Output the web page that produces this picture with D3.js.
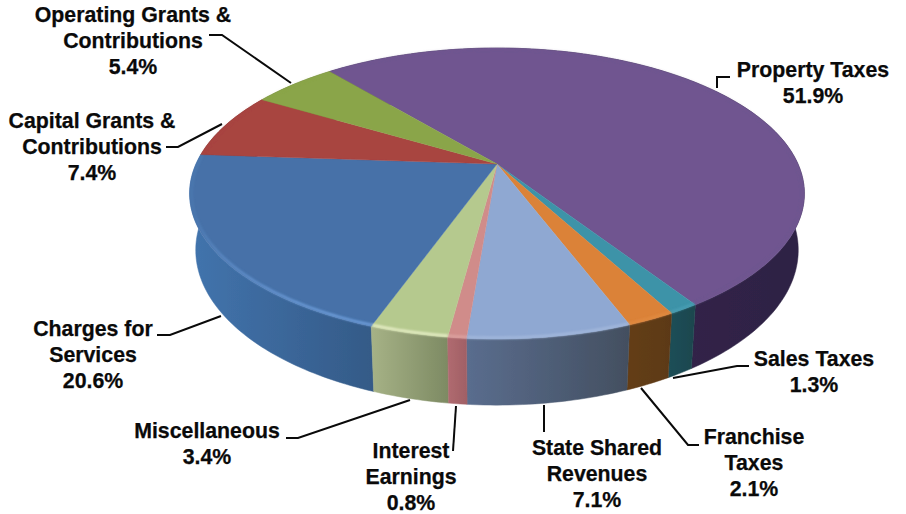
<!DOCTYPE html>
<html lang="en">
<head>
  <meta charset="UTF-8" />
  <title>Revenues by Source</title>
  <script src="https://d3js.org/d3.v7.min.js"></script>
  <style>
    html, body { margin: 0; padding: 0; background: #fff; }
    svg { display: block; }
    text { font-family: "Liberation Sans", Arial, sans-serif; font-weight: bold; font-size: 21.3px; fill: #0a0a0a; stroke: #0a0a0a; stroke-width: 0.25px; text-anchor: middle; }
    .leader { fill: none; stroke: #0a0a0a; stroke-width: 2; }
  </style>
</head>
<body>
  <div id="chart"></div>
  <script>
    // Data, clockwise from the big purple slice
    const categories = [
      ["Property Taxes"],
      ["Sales Taxes"],
      ["Franchise", "Taxes"],
      ["State Shared", "Revenues"],
      ["Interest", "Earnings"],
      ["Miscellaneous"],
      ["Charges for", "Services"],
      ["Capital Grants &", "Contributions"],
      ["Operating Grants &", "Contributions"]
    ];
    const values = [51.9, 1.3, 2.1, 7.1, 0.8, 3.4, 20.6, 7.4, 5.4];

    // Colours per slice
    const topColors  = ["#6f5590", "#3c93a8", "#db8238", "#8fa8d2", "#d08c8a", "#b5c98e", "#4671a8", "#a84440", "#8aa548"];
    const sideLeft   = ["#3a2b54", "#1f4f58", "#643e19", "#5a6d8e", "#b06a70", "#a6b286", "#4274ad", "#7a2f2c", "#63782f"];
    const sideRight  = ["#2e2244", "#1b464e", "#5c3916", "#434f60", "#a06065", "#7d8a63", "#345a87", "#7a2f2c", "#63782f"];
    const bevelColor = ["#6f5590", "#4a9fb4", "#e08a40", "#a3b8dc", "#dca2a0", "#e8efc8", "#6f9fdc", "#a84440", "#8aa548"];

    // Label and leader layout
    const labelPos = [
      { x: 813, y: 77 },
      { x: 814, y: 366 },
      { x: 754, y: 444 },
      { x: 597, y: 455 },
      { x: 411, y: 458 },
      { x: 207, y: 438 },
      { x: 93,  y: 336 },
      { x: 92,  y: 128 },
      { x: 133, y: 22 }
    ];
    const leaders = [
      [[717, 88], [717, 77], [730, 77]],
      [[673, 378], [737, 366], [749, 366]],
      [[641, 388], [688, 445], [699, 445]],
      [[544, 405], [544, 432]],
      [[456, 406], [453, 451]],
      [[410, 400], [298, 438], [286, 438]],
      [[221, 316], [170, 335], [157, 335]],
      [[222, 124], [178, 147], [166, 147]],
      [[291, 83], [222, 35], [209, 35]]
    ];

    const width = 906, height = 514;
    const svg = d3.select("#chart").append("svg")
      .attr("width", width)
      .attr("height", height)
      .attr("viewBox", `0 0 ${width} ${height}`);

    const defs = svg.append("defs");
    defs.append("filter").attr("id", "soft")
      .attr("x", "-5%").attr("y", "-5%").attr("width", "110%").attr("height", "110%")
      .append("feGaussianBlur").attr("stdDeviation", 0.6);
    defs.append("filter").attr("id", "glow")
      .attr("filterUnits", "userSpaceOnUse")
      .attr("x", 0).attr("y", 0).attr("width", width).attr("height", height)
      .append("feGaussianBlur").attr("stdDeviation", 0.9);

    // Bevel fades out towards the sides of the disc
    const fade = defs.append("linearGradient")
      .attr("id", "bevelFade")
      .attr("gradientUnits", "userSpaceOnUse")
      .attr("x1", 0).attr("x2", 0).attr("y1", 215).attr("y2", 315);
    fade.append("stop").attr("offset", 0).attr("stop-color", "#fff").attr("stop-opacity", 0.15);
    fade.append("stop").attr("offset", 1).attr("stop-color", "#fff").attr("stop-opacity", 1);
    defs.append("mask").attr("id", "bevelMask")
      .attr("maskUnits", "userSpaceOnUse")
      .attr("x", 0).attr("y", 0).attr("width", width).attr("height", height)
      .append("rect")
      .attr("width", width).attr("height", height)
      .attr("fill", "url(#bevelFade)");

    // Tilted disc: a circle seen in perspective, so the centre sits above the middle of the ellipse
    const tilt = 0.2028;
    const topDisc = { cx: 497, cy: 164, a: 301, b: 139.5 };
    const botDisc = { cx: 497, cy: 218.6, a: 295, b: 148.7 };
    const bevelDisc = { cx: 497, cy: 164, a: 299, b: 138.5 };

    function project(disc, angle) {
      const X = Math.sin(angle), Y = -Math.cos(angle);
      const d = 1 - tilt * Y;
      return [disc.cx + disc.a * X / d, disc.cy + disc.b * Y / d];
    }

    function rimAngles(s) {
      const step = Math.PI / 180;
      const list = d3.range(s.startAngle, s.endAngle, step);
      list.push(s.endAngle);
      return list;
    }

    const rad = d3.scaleLinear().domain([0, 360]).range([0, 2 * Math.PI]);
    const pie = d3.pie().sort(null).startAngle(rad(-40)).endAngle(rad(320));
    const slices = pie(values);
    const line = d3.line();

    const disc = svg.append("g").attr("filter", "url(#soft)");

    // Walls, back ones first
    const wallOrder = slices.map((s, i) => i)
      .sort((a, b) => {
        const mid = s => -Math.cos((s.startAngle + s.endAngle) / 2);
        return mid(slices[a]) - mid(slices[b]);
      });

    wallOrder.forEach(i => {
      const angles = rimAngles(slices[i]);
      const upper = angles.map(a => project(topDisc, a));
      const lower = angles.map(a => project(botDisc, a)).reverse();
      const xs = upper.concat(lower).map(p => p[0]);

      const grad = defs.append("linearGradient")
        .attr("id", `wall${i}`)
        .attr("gradientUnits", "userSpaceOnUse")
        .attr("x1", d3.min(xs)).attr("x2", d3.max(xs))
        .attr("y1", 0).attr("y2", 0);
      grad.append("stop").attr("offset", 0).attr("stop-color", sideLeft[i]);
      grad.append("stop").attr("offset", 1).attr("stop-color", sideRight[i]);

      disc.append("path")
        .attr("d", line(upper.concat(lower)) + "Z")
        .attr("fill", `url(#wall${i})`)
        .attr("stroke", `url(#wall${i})`)
        .attr("stroke-width", 0.5);
    });

    // Top face
    slices.forEach((s, i) => {
      const pts = rimAngles(s).map(a => project(topDisc, a));
      pts.unshift([topDisc.cx, topDisc.cy]);
      disc.append("path")
        .attr("d", line(pts) + "Z")
        .attr("fill", topColors[i])
        .attr("stroke", topColors[i])
        .attr("stroke-width", 0.4);
    });

    // Bevel light just inside the rim
    const bevel = disc.append("g").attr("mask", "url(#bevelMask)");
    slices.forEach((s, i) => {
      const pts = rimAngles(s).map(a => project(bevelDisc, a));
      bevel.append("path")
        .attr("d", line(pts))
        .attr("fill", "none")
        .attr("stroke", bevelColor[i])
        .attr("stroke-width", 2.5)
        .attr("filter", "url(#glow)");
    });

    // Leaders
    svg.selectAll("path.leader")
      .data(leaders)
      .join("path")
      .attr("class", "leader")
      .attr("d", d => line(d));

    // Labels
    const lineHeight = 25.8;
    categories.forEach((name, i) => {
      const rows = name.concat(`${values[i].toFixed(1)}%`);
      const t = svg.append("text").attr("transform", `translate(${labelPos[i].x},${labelPos[i].y})`);
      rows.forEach((row, j) => {
        t.append("tspan").attr("x", 0).attr("y", j * lineHeight).text(row);
      });
    });
  </script>
</body>
</html>
